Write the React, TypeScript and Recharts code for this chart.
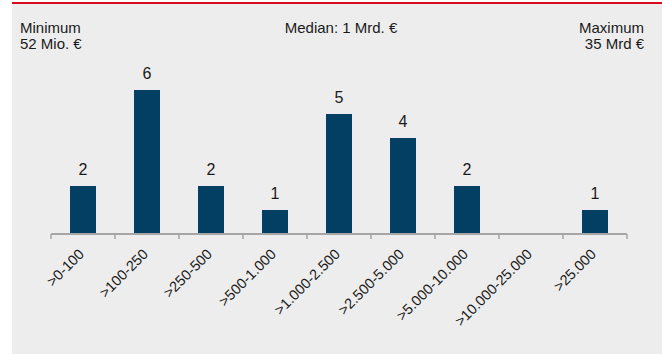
import { BarChart, Bar, XAxis, YAxis, LabelList } from 'recharts'

const CATEGORIES = [
  '>0-100',
  '>100-250',
  '>250-500',
  '>500-1.000',
  '>1.000-2.500',
  '>2.500-5.000',
  '>5.000-10.000',
  '>10.000-25.000',
  '>25.000',
]

const COUNTS = [2, 6, 2, 1, 5, 4, 2, 0, 1]

const W = 662
const H = 354
const AXIS_H = 30
const MARGIN = { top: 90, right: 35, bottom: 90, left: 51 }
const PLOT_BOTTOM = H - MARGIN.bottom - AXIS_H
const BAND = (W - MARGIN.left - MARGIN.right) / CATEGORIES.length

const BAR_COLOR = '#023f63'
const TEXT_COLOR = '#1a1a1a'
const AXIS_COLOR = '#a6a6a6'
const FONT = '"Liberation Sans", Arial, sans-serif'

const data = CATEGORIES.map((name, i) => ({ name, count: COUNTS[i] }))

// tick marks sit on the category boundaries, labels rotated 45° under the centre
const CategoryTick = (props: any) => {
  const { x, index } = props
  const left = x - BAND / 2
  const right = x + BAND / 2
  const ox = x + 2
  const oy = PLOT_BOTTOM + 21
  return (
    <g>
      <line x1={left} y1={PLOT_BOTTOM} x2={left} y2={PLOT_BOTTOM + 5} stroke={AXIS_COLOR} strokeWidth={1.5} />
      {index === CATEGORIES.length - 1 && (
        <line x1={right} y1={PLOT_BOTTOM} x2={right} y2={PLOT_BOTTOM + 5} stroke={AXIS_COLOR} strokeWidth={1.5} />
      )}
      <text
        x={ox}
        y={oy}
        transform={`rotate(-45, ${ox}, ${oy})`}
        textAnchor="end"
        fill={TEXT_COLOR}
        fontSize={14.5}
        fontFamily={FONT}
      >
        {CATEGORIES[index]}
      </text>
    </g>
  )
}

export default function App() {
  return (
    <div style={{ position: 'absolute', left: 0, top: 0, width: W, height: H, background: '#fff' }}>
      <div style={{ position: 'absolute', left: 12, top: 2, width: W - 12, height: 2, background: '#dc0a1e' }} />
      <div style={{ position: 'absolute', left: 12, top: 4, width: W - 12, height: H - 4, background: '#ededed' }} />
      <svg width={W} height={H} style={{ position: 'absolute', left: 0, top: 0 }}>
        <g fontFamily={FONT} fontSize={15} fill={TEXT_COLOR}>
          <text x={20} y={33}>Minimum</text>
          <text x={20} y={49}>52 Mio. €</text>
          <text x={341} y={33} textAnchor="middle">Median: 1 Mrd. €</text>
          <text x={644} y={33} textAnchor="end">Maximum</text>
          <text x={644} y={49} textAnchor="end">35 Mrd €</text>
        </g>
      </svg>
      <div style={{ position: 'absolute', left: 0, top: 0 }}>
        <BarChart width={W} height={H} data={data} margin={MARGIN} barCategoryGap={0}>
          <XAxis
            dataKey="name"
            interval={0}
            height={AXIS_H}
            axisLine={{ stroke: AXIS_COLOR, strokeWidth: 2 }}
            tickLine={false}
            tick={<CategoryTick />}
          />
          <YAxis domain={[0, 6]} hide />
          <Bar dataKey="count" fill={BAR_COLOR} barSize={26} isAnimationActive={false}>
            <LabelList
              dataKey="count"
              position="top"
              offset={11}
              formatter={(v: any) => (v ? v : '')}
              fill={TEXT_COLOR}
              fontSize={16}
              fontFamily={FONT}
            />
          </Bar>
        </BarChart>
      </div>
    </div>
  )
}
